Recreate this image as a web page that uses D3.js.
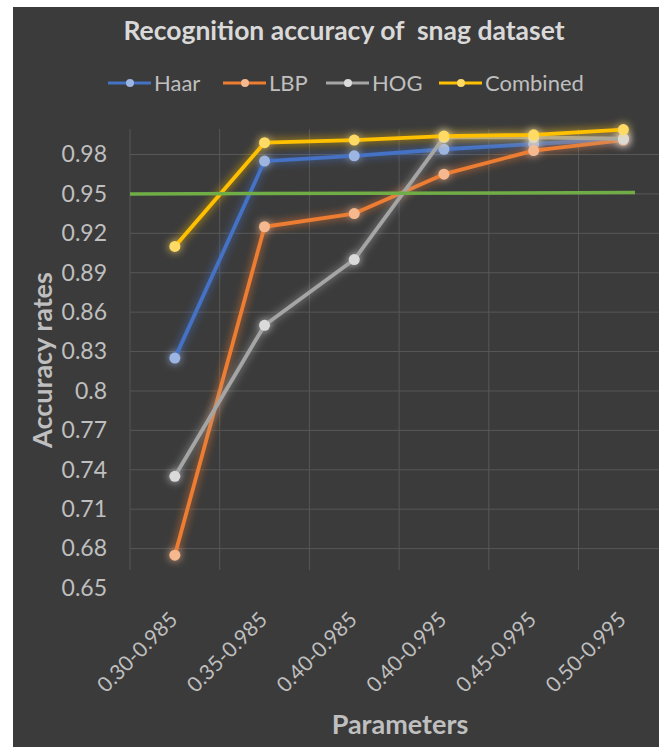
<!DOCTYPE html>
<html>
<head>
<meta charset="utf-8">
<script src="https://cdn.jsdelivr.net/npm/d3@7"></script>
<style>
  html, body { margin: 0; padding: 0; background: #ffffff; }
  svg { display: block; }
</style>
</head>
<body>
<script>
'use strict';

// values
const categories = ["0.30-0.985", "0.35-0.985", "0.40-0.985", "0.40-0.995", "0.45-0.995", "0.50-0.995"];
const haar = [0.825, 0.975, 0.979, 0.984, 0.988, 0.992];
const lbp = [0.675, 0.925, 0.935, 0.965, 0.983, 0.991];
const hog = [0.735, 0.850, 0.900, 0.993, 0.993, 0.992];
const combined = [0.910, 0.989, 0.991, 0.994, 0.995, 0.999];
const threshold = [0.950, 0.951];
const yTicks = [0.65, 0.68, 0.71, 0.74, 0.77, 0.8, 0.83, 0.86, 0.89, 0.92, 0.95, 0.98];
const seriesNames = ["Haar", "LBP", "HOG", "Combined"];

function drawChart(width, height) {
    let svg = d3.create("svg")
        .attr("width", width)
        .attr("height", height);

    let font = "Lato, 'Open Sans', sans-serif";
    let textColor = "#bfbfbf";

    // soft glow under every line, like the office chart effect
    let defs = svg.append("defs");
    let glow = defs.append("filter")
        .attr("id", "glow")
        .attr("x", "-20%").attr("y", "-20%")
        .attr("width", "140%").attr("height", "140%");
    glow.append("feGaussianBlur")
        .attr("in", "SourceGraphic")
        .attr("stdDeviation", 4.5)
        .attr("result", "blur");
    glow.append("feComponentTransfer")
        .attr("in", "blur")
        .attr("result", "soft")
        .append("feFuncA").attr("type", "linear").attr("slope", 0.9);
    let merge = glow.append("feMerge");
    merge.append("feMergeNode").attr("in", "soft");
    merge.append("feMergeNode").attr("in", "SourceGraphic");

    svg.append("rect")
        .attr("x", 13).attr("y", 7)
        .attr("width", width - 13).attr("height", height - 7)
        .attr("fill", "#3b3b3b");

    let plotTop = 129, plotBottom = 570, plotLeft = 130;

    let x = d3.scaleBand()
        .domain(categories)
        .range([plotLeft, plotLeft + 6 * 89.7]);

    let y = d3.scaleLinear()
        .domain([0.65, 0.98])
        .range([588, 154.5]);

    let z = d3.scaleOrdinal()
        .domain(seriesNames)
        .range(["#4472c4", "#ed7d31", "#a5a5a5", "#ffc000"]);

    let zMarker = d3.scaleOrdinal()
        .domain(seriesNames)
        .range(["#9db5e3", "#f6b88e", "#dadada", "#ffdb66"]);

    let series = [
        { name: "Haar", values: haar },
        { name: "LBP", values: lbp },
        { name: "HOG", values: hog },
        { name: "Combined", values: combined }
    ];

    // gridlines
    let grid = svg.append("g");
    grid.selectAll("line.h")
        .data(yTicks.filter(t => y(t) >= plotTop && y(t) <= plotBottom))
        .enter().append("line")
        .attr("class", "h")
        .attr("x1", plotLeft).attr("x2", width)
        .attr("y1", d => y(d)).attr("y2", d => y(d))
        .attr("stroke", "#575757").attr("stroke-width", 1);

    let bounds = categories.map(c => x(c)).concat([x.range()[1]]);
    grid.selectAll("line.v")
        .data(bounds)
        .enter().append("line")
        .attr("class", "v")
        .attr("x1", d => d).attr("x2", d => d)
        .attr("y1", plotTop).attr("y2", plotBottom)
        .attr("stroke", "#575757").attr("stroke-width", 1);

    // y axis labels
    let yAxis = svg.append("g")
        .attr("transform", "translate(107,0)")
        .call(d3.axisLeft(y).tickValues(yTicks).tickSize(0).tickPadding(0)
            .tickFormat(d => d3.format("")(+d.toFixed(2))));
    yAxis.select(".domain").remove();
    yAxis.selectAll("text")
        .attr("fill", textColor)
        .style("font-family", font)
        .style("font-size", "23px");

    // x axis labels, rotated
    svg.append("g")
        .selectAll("text")
        .data(categories)
        .enter().append("text")
        .attr("transform", d => "translate(" + (x(d) + x.bandwidth() / 2 + 4) + ",621) rotate(-45)")
        .attr("text-anchor", "end")
        .attr("fill", textColor)
        .style("font-family", font)
        .style("font-size", "21px")
        .text(d => d);

    // lines
    let cx = (d, i) => x(categories[i]) + x.bandwidth() / 2;
    let line = d3.line()
        .x(cx)
        .y(d => y(d));

    let g = svg.append("g");
    let sg = g.selectAll("g.series")
        .data(series)
        .enter().append("g")
        .attr("class", "series")
        .attr("filter", "url(#glow)");

    sg.append("path")
        .attr("d", d => line(d.values))
        .attr("fill", "none")
        .attr("stroke", d => z(d.name))
        .attr("stroke-width", 3.8)
        .attr("stroke-linejoin", "round");

    sg.selectAll("circle")
        .data(d => d.values.map(v => ({ name: d.name, v: v })))
        .enter().append("circle")
        .attr("cx", cx)
        .attr("cy", d => y(d.v))
        .attr("r", 5.5)
        .attr("fill", d => zMarker(d.name));

    // 0.95 reference line
    let last = categories[categories.length - 1];
    svg.append("line")
        .attr("x1", x.range()[0])
        .attr("x2", x(last) + x.bandwidth() * 0.63)
        .attr("y1", y(threshold[0]))
        .attr("y2", y(threshold[1]))
        .attr("stroke", "#70ad47")
        .attr("stroke-width", 3.5);

    // title
    svg.append("text")
        .attr("x", 344).attr("y", 40)
        .attr("text-anchor", "middle")
        .attr("fill", "#d9d9d9")
        .style("font-family", font)
        .style("font-weight", "bold")
        .style("font-size", "26.5px")
        .style("white-space", "pre")
        .attr("xml:space", "preserve")
        .text("Recognition accuracy of  snag dataset");

    // legend
    let legendX = [108, 223, 326, 439];
    let legend = svg.append("g")
        .selectAll("g")
        .data(seriesNames)
        .enter().append("g")
        .attr("transform", (d, i) => "translate(" + legendX[i] + ",83)");
    legend.append("line")
        .attr("x1", 0).attr("x2", 43)
        .attr("stroke", d => z(d))
        .attr("stroke-width", 3);
    legend.append("circle")
        .attr("cx", 22).attr("r", 4)
        .attr("fill", d => zMarker(d));
    legend.append("text")
        .attr("x", 46)
        .attr("dy", "0.35em")
        .attr("fill", textColor)
        .style("font-family", font)
        .style("font-size", "22px")
        .text(d => d);

    // axis titles
    svg.append("text")
        .attr("transform", "translate(52,360) rotate(-90)")
        .attr("text-anchor", "middle")
        .attr("fill", textColor)
        .style("font-family", font)
        .style("font-weight", "bold")
        .style("font-size", "27px")
        .text("Accuracy rates");

    svg.append("text")
        .attr("x", 400).attr("y", 734)
        .attr("text-anchor", "middle")
        .attr("fill", textColor)
        .style("font-family", font)
        .style("font-weight", "bold")
        .style("font-size", "27px")
        .text("Parameters");

    d3.select("body").append(() => svg.node());
    return svg.node();
}

drawChart(659, 747);
</script>
</body>
</html>
